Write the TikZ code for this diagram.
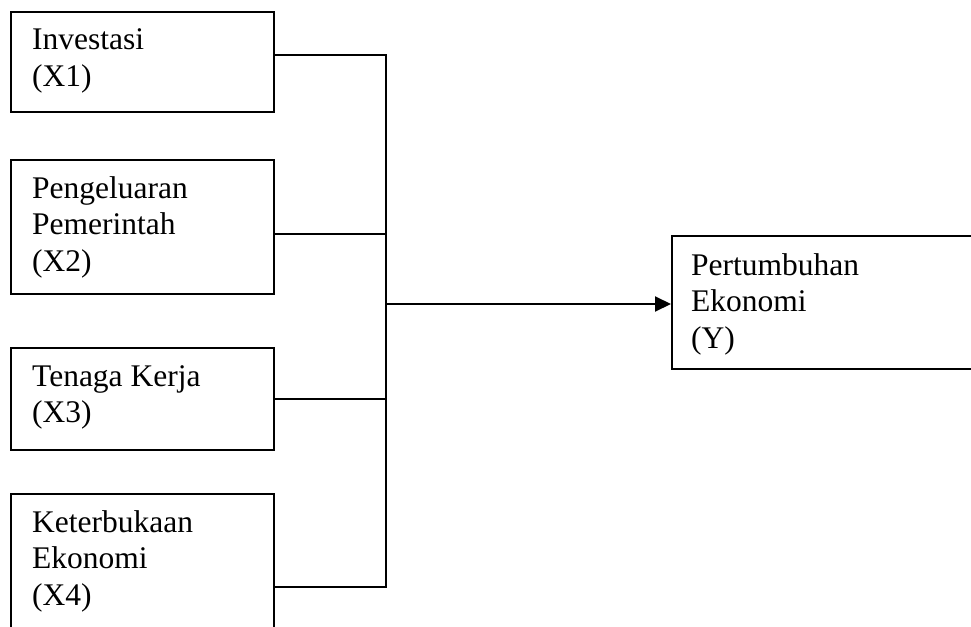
\documentclass[tikz,border=0pt]{standalone}
\usepackage{fontspec}
\setmainfont{Liberation Serif}
\usetikzlibrary{arrows.meta}
\begin{document}
\begin{tikzpicture}[x=1pt,y=-1pt,
  box/.style={draw, line width=1.6pt, inner sep=0pt, anchor=north west},
  lbl/.style={anchor=base west, inner sep=0pt, font=\fontsize{31.5}{36.5}\selectfont},
  conn/.style={line width=1.4pt},
  arr/.style={line width=2pt, -{Triangle[length=16pt,width=15pt]}}]
\useasboundingbox (0,0) rectangle (971,626);
\clip (0,0) rectangle (971,626);
% boxes
\node[box, minimum width=263pt, minimum height=100pt] (x1) at (10,11) {};
\node[box, minimum width=263pt, minimum height=134pt] (x2) at (10,159) {};
\node[box, minimum width=263pt, minimum height=102pt] (x3) at (10,347) {};
\node[box, minimum width=263pt, minimum height=160pt] (x4) at (10,493) {};
\node[box, minimum width=330pt, minimum height=133pt] (y) at (671,235) {};
% labels
\node[lbl] (t1) at ([shift={(22,39)}]x1.north west) {\vtop{\hbox{Investasi}\hbox{(X1)}}};
\node[lbl] (t2) at ([shift={(22,39)}]x2.north west) {\vtop{\hbox{Pengeluaran}\hbox{Pemerintah}\hbox{(X2)}}};
\node[lbl] (t3) at ([shift={(22,39)}]x3.north west) {\vtop{\hbox{Tenaga Kerja}\hbox{(X3)}}};
\node[lbl] (t4) at ([shift={(22,39)}]x4.north west) {\vtop{\hbox{Keterbukaan}\hbox{Ekonomi}\hbox{(X4)}}};
\node[lbl] (ty) at ([shift={(20,40)}]y.north west) {\vtop{\hbox{Pertumbuhan}\hbox{Ekonomi}\hbox{(Y)}}};
% connectors
\coordinate (b1) at (386,55);
\coordinate (b2) at (386,234);
\coordinate (b3) at (386,399);
\coordinate (b4) at (386,587);
\coordinate (j) at (386,304);
\draw[conn] (b1 -| x1.east) -- (b1) -- (b4) -- (b4 -| x4.east);
\draw[conn] (b2 -| x2.east) -- (b2);
\draw[conn] (b3 -| x3.east) -- (b3);
\draw[arr] (j) -- (j -| y.west);
\end{tikzpicture}
\end{document}
